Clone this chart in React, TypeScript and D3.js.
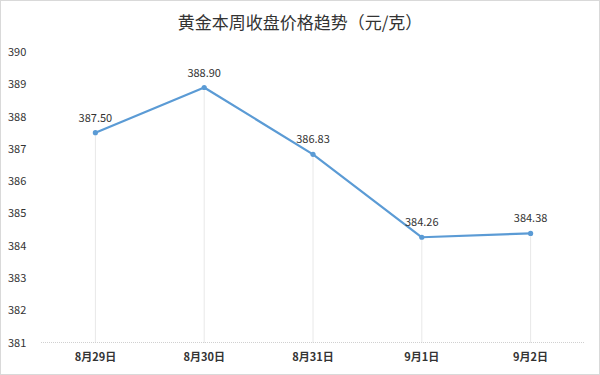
import React from "react";
import * as d3 from "d3";

const categories = ["8月29日", "8月30日", "8月31日", "9月1日", "9月2日"];
const prices = [387.5, 388.9, 386.83, 384.26, 384.38];
const yTicks = [381, 382, 383, 384, 385, 386, 387, 388, 389, 390];
const title = "黄金本周收盘价格趋势（元/克）";

export default function App() {
  const W = 600, H = 375;
  const x = d3.scaleBand<string>().domain(categories).range([41, 585]);
  const y = d3.scaleLinear().domain([381, 390]).range([342.5, 52]);
  const cx = (c: string) => (x(c) as number) + x.bandwidth() / 2;
  const pts = categories.map((c, i) => [cx(c), y(prices[i])] as [number, number]);
  const line = d3.line();
  const font = "'Noto Sans CJK SC', 'Noto Sans', sans-serif";
  return (
    <svg width={W} height={H} style={{ position: "fixed", left: 0, top: 0, background: "#fff" }} fontFamily={font}>
      <rect x={0.5} y={0.5} width={W - 1} height={H - 1} fill="#fff" stroke="#d9d9d9" />
      <text x={300} y={29} textAnchor="middle" fontSize={17} fill="#333">{title}</text>
      {yTicks.map(t => (
        <text key={t} x={8} y={y(t) + 4} fontSize={11} fill="#333">{t}</text>
      ))}
      {categories.map((c, i) => (
        <line key={c} x1={cx(c)} x2={cx(c)} y1={342.5} y2={y(prices[i])} stroke="#d0d0d0" strokeDasharray="1,1" />
      ))}
      <line x1={41} x2={585} y1={342.5} y2={342.5} stroke="#d0d0d0" strokeDasharray="1,1" />
      <path d={line(pts) || ""} fill="none" stroke="#5b9bd5" strokeWidth={2.2} strokeLinejoin="round" />
      {pts.map((p, i) => (
        <circle key={i} cx={p[0]} cy={p[1]} r={2.6} fill="#5b9bd5" />
      ))}
      {pts.map((p, i) => (
        <text key={"l" + i} x={p[0]} y={p[1] - 11} textAnchor="middle" fontSize={11} fill="#333">{prices[i].toFixed(2)}</text>
      ))}
      {categories.map(c => (
        <text key={"x" + c} x={cx(c)} y={361} textAnchor="middle" fontSize={11} fill="#333" fontWeight={600}>{c}</text>
      ))}
    </svg>
  );
}
